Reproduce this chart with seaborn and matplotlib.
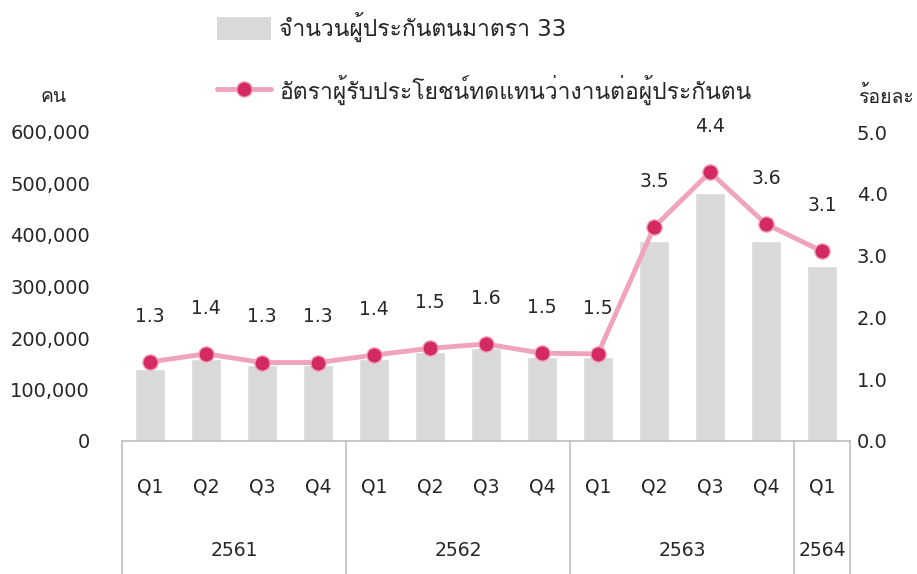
import matplotlib
matplotlib.use("Agg")
import matplotlib.pyplot as plt
from matplotlib import font_manager
from matplotlib.ft2font import FT2Font
from matplotlib.patches import Patch
from matplotlib.lines import Line2D
import numpy as np
import pandas as pd
import seaborn as sns

# data
quarters = ["Q1", "Q2", "Q3", "Q4", "Q1", "Q2", "Q3", "Q4",
            "Q1", "Q2", "Q3", "Q4", "Q1"]
years = ["2561", "2562", "2563", "2564"]
quarters_per_year = [4, 4, 4, 1]
insured = [140000, 159000, 148000, 147000, 159000, 173000, 181000,
           163000, 163000, 388000, 482000, 388000, 340000]
rate = [1.28, 1.41, 1.27, 1.27, 1.39, 1.50, 1.57, 1.42, 1.41,
        3.46, 4.35, 3.51, 3.07]
rate_labels = ["1.3", "1.4", "1.3", "1.3", "1.4", "1.5", "1.6", "1.5",
               "1.5", "3.5", "4.4", "3.6", "3.1"]

bar_name = "จำนวนผู้ประกันตนมาตรา 33"
line_name = "อัตราผู้รับประโยชน์ทดแทนว่างานต่อผู้ประกันตน"


def thai_fonts():
    """Find installed families that carry Thai glyphs."""
    found = []
    for f in font_manager.fontManager.ttflist:
        try:
            cmap = FT2Font(f.fname).get_charmap()
        except Exception:
            continue
        if 0x0E08 in cmap and 0x0E49 in cmap and f.name not in found:
            found.append(f.name)
    return found


sns.set_style("white")
thai = thai_fonts()
plt.rcParams["font.family"] = ["DejaVu Sans"] + thai

text_col = "#262626"
bar_col = "#d9d9d9"
line_col = "#f0a3bd"
dot_col = "#d42a62"
grid_col = "#bfbfbf"

df = pd.DataFrame({"pos": np.arange(len(insured)), "insured": insured,
                   "rate": rate})

fig = plt.figure(figsize=(9.17, 5.74), dpi=100)
ax = fig.add_axes([122 / 917, 1 - 441 / 574, 728 / 917, 309 / 574])

sns.barplot(data=df, x="pos", y="insured", color=bar_col, width=0.55,
            saturation=1, ax=ax)
ax.set_ylim(0, 600000)
ax.set_xlim(-0.5, len(insured) - 0.5)
ax.set_yticks(range(0, 600001, 100000))
ax.set_yticklabels([f"{v:,}" for v in range(0, 600001, 100000)])
ax.set_xticks([])
ax.set_xlabel("")
ax.set_ylabel("")
ax.tick_params(axis="y", length=0, pad=23, labelsize=14, labelcolor=text_col)
for s in ["top", "right", "left"]:
    ax.spines[s].set_visible(False)
ax.spines["bottom"].set_color(grid_col)
ax.spines["bottom"].set_linewidth(1.2)

ax2 = ax.twinx()
sns.lineplot(data=df, x="pos", y="rate", color=line_col, linewidth=3.5,
             marker="o", markersize=11, markerfacecolor=dot_col,
             markeredgecolor=line_col, markeredgewidth=1, ax=ax2)
ax2.set_ylim(0, 5)
ax2.set_yticks(np.arange(0, 5.01, 1))
ax2.set_yticklabels([f"{v:.1f}" for v in np.arange(0, 5.01, 1)])
ax2.set_xlabel("")
ax2.set_ylabel("")
ax2.tick_params(axis="y", length=0, pad=5, labelsize=14, labelcolor=text_col)
for s in ax2.spines.values():
    s.set_visible(False)

for x, y, lab in zip(df["pos"], rate, rate_labels):
    ax2.annotate(lab, (x, y), xytext=(0, 33), textcoords="offset points",
                 ha="center", va="center", fontsize=13.5, color=text_col)

# category axis: quarters and year boxes
trans = ax.get_xaxis_transform()
for i, q in enumerate(quarters):
    ax.text(i, -0.149, q, transform=trans, ha="center", va="center",
            fontsize=13.5, color=text_col)
edges = np.concatenate([[0], np.cumsum(quarters_per_year)]) - 0.5
for e in edges:
    ax.plot([e, e], [0, -0.44], transform=trans, color=grid_col, lw=1.2,
            clip_on=False)
for yr, a, b in zip(years, edges[:-1], edges[1:]):
    ax.text((a + b) / 2, -0.353, yr, transform=trans, ha="center",
            va="center", fontsize=13.5, color=text_col)

# unit labels
fig.text(40 / 917, 1 - 96 / 574, "คน", ha="left", va="center",
         fontsize=14, color=text_col)
fig.text(858 / 917, 1 - 96 / 574, "ร้อยละ", ha="left", va="center",
         fontsize=14, color=text_col)

handles = [Patch(facecolor=bar_col, edgecolor="none"),
           Line2D([], [], color=line_col, lw=3.5, marker="o", markersize=11,
                  markerfacecolor=dot_col, markeredgecolor=line_col)]
fig.legend(handles, [bar_name, line_name], loc="upper left",
           bbox_to_anchor=(217 / 917, 1 - 12 / 574), frameon=False,
           fontsize=16.5, handlelength=2.36, handleheight=1.18,
           handletextpad=0.35, labelspacing=1.42, borderpad=0,
           borderaxespad=0, labelcolor=text_col)

fig.savefig("out.png", dpi=100)
